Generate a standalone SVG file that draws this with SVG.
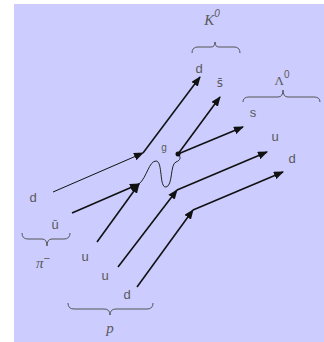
<svg xmlns="http://www.w3.org/2000/svg" width="324" height="342" viewBox="0 0 324 342">
<defs>
<style>
.q{font-family:"Liberation Sans","DejaVu Sans",sans-serif;font-size:13px;fill:#5a5a5a;text-anchor:middle}
.m{font-family:"Liberation Serif",serif;font-style:italic;font-size:15px;fill:#5a5a5a;text-anchor:middle}
.sup{font-family:"Liberation Sans",sans-serif;font-size:10px;fill:#5a5a5a}
.ln{fill:none;stroke:#111;stroke-width:1.6}
.br{fill:none;stroke:#555;stroke-width:1}
</style>
<marker id="ah" viewBox="0 0 10 8" refX="9" refY="4" markerWidth="10" markerHeight="8" markerUnits="userSpaceOnUse" orient="auto">
<path d="M0,0 L10,4 L0,8 Z" fill="#111"/>
</marker>
</defs>
<rect x="0" y="0" width="324" height="342" fill="#fff"/>
<rect x="14" y="4" width="310" height="338" fill="#ccccff"/>
<g id="connectors">
<path class="ln" style="stroke-width:1" d="M53,192 L143,153" marker-end="url(#ah)"/>
<path class="ln" d="M143,153 L200,77" marker-end="url(#ah)"/>
<path class="ln" d="M72,213 L139,184" marker-end="url(#ah)"/>
<path class="ln" d="M97,242 L139,184" marker-end="url(#ah)"/>
<path class="ln" d="M178,154 L220,97" marker-end="url(#ah)"/>
<path class="ln" d="M178,154 L243,127" marker-end="url(#ah)"/>
<path class="ln" d="M118,267 L177,190" marker-end="url(#ah)"/>
<path class="ln" d="M177,190 L267,152" marker-end="url(#ah)"/>
<path class="ln" d="M137,287 L193,210" marker-end="url(#ah)"/>
<path class="ln" d="M193,210 L283,172" marker-end="url(#ah)"/>
<path id="gluon" fill="none" stroke="#222" stroke-width="1" d="M139,184 C147,177 149,161 156,161 C163,161 159,188 166,187 C173,186 170,164 176,162 C181,160 181,157 178,154"/>
<circle cx="178" cy="154" r="2.5" fill="#111"/>
</g>
<g id="braces">
<path class="br" d="M192,53 Q192,47 198,47 L211,47 Q215,47 215,42 Q215,47 219,47 L234,47 Q240,47 240,53"/>
<path class="br" d="M243,102 Q243,97 249,97 L278,97 Q283,97 283,90 Q283,97 288,97 L314,97 Q320,97 320,102"/>
<path class="br" d="M22,233 Q22,239 28,239 L42,239 Q47,239 47,246 Q47,239 52,239 L64,239 Q70,239 70,233"/>
<path class="br" d="M68,303 Q68,309 74,309 L104,309 Q110,309 110,315 Q110,309 116,309 L147,309 Q153,309 153,303"/>
</g>
<g id="labels">
<text class="q" x="33" y="202">d</text>
<text class="q" x="55" y="229">ū</text>
<text class="q" x="85" y="261">u</text>
<text class="q" x="105" y="280">u</text>
<text class="q" x="127" y="299">d</text>
<text class="q" x="199" y="73">d</text>
<text class="q" x="220" y="87" style="font-family:'DejaVu Sans',sans-serif;font-size:12px">s̄</text>
<text class="q" x="253" y="117">s</text>
<text class="q" x="275" y="141">u</text>
<text class="q" x="292" y="163">d</text>
<text class="q" x="164" y="151" style="font-size:10px">g</text>
<text class="m" x="212" y="25">K<tspan class="sup" dy="-8">0</tspan></text>
<text class="m" x="282" y="85" style="font-style:normal;font-size:13px">Λ<tspan class="sup" dy="-7">0</tspan></text>
<text class="m" x="43" y="268">π<tspan class="sup" dy="-6" style="font-size:11px">−</tspan></text>
<text class="m" x="110" y="333">p</text>
</g>
</svg>
